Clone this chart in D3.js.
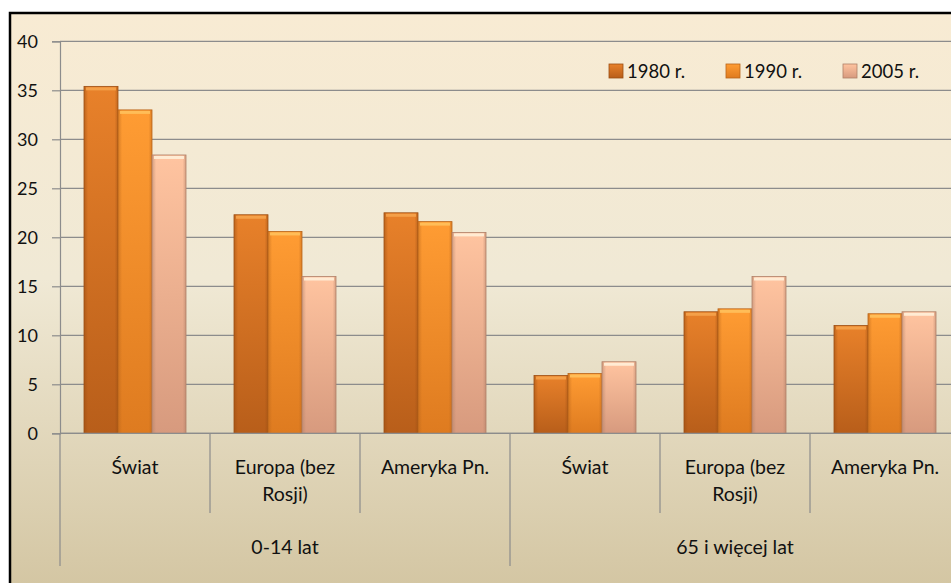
<!DOCTYPE html>
<html>
<head>
<meta charset="utf-8">
<script src="https://cdn.jsdelivr.net/npm/d3@7"></script>
<style>
  html, body { margin: 0; padding: 0; background: #fff; }
  svg { display: block; }
  text { font-family: Lato, "Open Sans", sans-serif; fill: #111; }
</style>
</head>
<body>
<svg id="chart" width="951" height="583"></svg>
<script>
const groups = ['0-14 lat', '65 i więcej lat']
const regions = ['Świat', 'Europa (bez Rosji)', 'Ameryka Pn.']
const seriesNames = ['1980 r.', '1990 r.', '2005 r.']
const v1980 = [35.4, 22.3, 22.5, 5.9, 12.4, 11.0]
const v1990 = [33.0, 20.6, 21.6, 6.1, 12.7, 12.2]
const v2005 = [28.4, 16.0, 20.5, 7.3, 16.0, 12.4]
const yTicks = [0, 5, 10, 15, 20, 25, 30, 35, 40]

const margin = { left: 60, top: 41.3, bottom: 433.3 }
const size = { width: 951, height: 583 }

// colours for each series: top, bottom, edge
const barColors = [
    { top: '#e8812a', bottom: '#b85e1a', edge: '#9c4e12', light: '#f5a34c' },
    { top: '#ff9c33', bottom: '#de7b20', edge: '#b8641a', light: '#ffc15c' },
    { top: '#ffc4a0', bottom: '#d79a7e', edge: '#b08068', light: '#fff0d8' }
]

const svg = d3.select('#chart')
const defs = svg.append('defs')

const bg = defs.append('linearGradient').attr('id', 'bg')
    .attr('x1', 0).attr('y1', 0).attr('x2', 0).attr('y2', 1)
bg.append('stop').attr('offset', '0%').attr('stop-color', '#f8ebd3')
bg.append('stop').attr('offset', '45%').attr('stop-color', '#f0e9d5')
bg.append('stop').attr('offset', '100%').attr('stop-color', '#d2c4a0')

barColors.forEach((c, i) => {
    const g = defs.append('linearGradient').attr('id', 'bar' + i)
        .attr('x1', 0).attr('y1', 0).attr('x2', 0).attr('y2', 1)
    g.append('stop').attr('offset', '0%').attr('stop-color', c.top)
    g.append('stop').attr('offset', '100%').attr('stop-color', c.bottom)
    const h = defs.append('linearGradient').attr('id', 'side' + i)
        .attr('x1', 0).attr('y1', 0).attr('x2', 1).attr('y2', 0)
    h.append('stop').attr('offset', '0%').attr('stop-color', c.edge).attr('stop-opacity', 0.55)
    h.append('stop').attr('offset', '12%').attr('stop-color', c.edge).attr('stop-opacity', 0)
    h.append('stop').attr('offset', '90%').attr('stop-color', c.edge).attr('stop-opacity', 0)
    h.append('stop').attr('offset', '100%').attr('stop-color', c.edge).attr('stop-opacity', 0.5)
})

// chart frame
svg.append('rect')
    .attr('x', 10).attr('y', 13)
    .attr('width', 960).attr('height', 590)
    .attr('fill', 'url(#bg)')
    .attr('stroke', '#000').attr('stroke-width', 2.5)

const categories = []
groups.forEach(g => regions.forEach(r => categories.push(g + '|' + r)))

const rows = categories.map((c, i) => ({
    key: c,
    values: [v1980[i], v1990[i], v2005[i]]
}))

const xScale = d3.scaleBand()
    .domain(categories)
    .range([margin.left, margin.left + 900])

const groupScale = d3.scaleBand()
    .domain(groups)
    .range([margin.left, margin.left + 900])

const xInner = d3.scaleBand()
    .domain(seriesNames)
    .range([24, 126])

const yScale = d3.scaleLinear()
    .domain([0, 40])
    .range([margin.bottom, margin.top])

// gridlines
svg.append('g')
    .selectAll('line')
    .data(yTicks)
    .enter()
    .append('line')
    .attr('x1', margin.left).attr('x2', size.width)
    .attr('y1', d => yScale(d)).attr('y2', d => yScale(d))
    .attr('stroke', '#8c8c8c').attr('stroke-width', 1.2)

// y axis
const yAxis = d3.axisLeft(yScale).tickValues(yTicks).tickSize(8).tickPadding(14)
const yG = svg.append('g')
    .attr('transform', `translate(${margin.left},0)`)
    .call(yAxis)
yG.select('.domain').attr('stroke', '#8c8c8c').attr('stroke-width', 1.2)
yG.selectAll('.tick line').attr('stroke', '#8c8c8c').attr('stroke-width', 1.2)
yG.selectAll('.tick text').attr('font-size', 18).attr('fill', '#111')
    .style('font-family', 'Lato, sans-serif')

// bars
const catG = svg.append('g')
    .selectAll('g')
    .data(rows)
    .enter()
    .append('g')
    .attr('transform', d => `translate(${xScale(d.key)},0)`)

const bar = catG.selectAll('g')
    .data(d => d.values.map((v, i) => ({ v, i })))
    .enter()
    .append('g')

bar.append('rect')
    .attr('x', d => xInner(seriesNames[d.i]))
    .attr('y', d => yScale(d.v))
    .attr('width', xInner.bandwidth())
    .attr('height', d => yScale(0) - yScale(d.v))
    .attr('fill', d => `url(#bar${d.i})`)
    .attr('stroke', d => barColors[d.i].edge).attr('stroke-width', 0.8)
bar.append('rect')
    .attr('x', d => xInner(seriesNames[d.i]))
    .attr('y', d => yScale(d.v))
    .attr('width', xInner.bandwidth())
    .attr('height', d => yScale(0) - yScale(d.v))
    .attr('fill', d => `url(#side${d.i})`)
bar.append('rect')
    .attr('x', d => xInner(seriesNames[d.i]) + 2)
    .attr('y', d => yScale(d.v) + 1)
    .attr('width', xInner.bandwidth() - 4)
    .attr('height', 3)
    .attr('fill', d => barColors[d.i].light)
    .attr('opacity', 0.9)

// x axis line
svg.append('line')
    .attr('x1', margin.left).attr('x2', size.width)
    .attr('y1', yScale(0)).attr('y2', yScale(0))
    .attr('stroke', '#8c8c8c').attr('stroke-width', 1.2)

// category dividers
const bounds = categories.map(c => xScale(c)).concat([margin.left + 900])
svg.append('g')
    .selectAll('line')
    .data(bounds)
    .enter()
    .append('line')
    .attr('x1', d => d).attr('x2', d => d)
    .attr('y1', yScale(0))
    .attr('y2', (d, i) => i % 3 === 0 ? 566 : 513)
    .attr('stroke', '#8c8c8c').attr('stroke-width', 1.2)

// category labels, wrapped
const lab = svg.append('g')
    .selectAll('text')
    .data(categories)
    .enter()
    .append('text')
    .attr('x', d => xScale(d) + xScale.bandwidth() / 2)
    .attr('y', 474)
    .attr('text-anchor', 'middle')
    .attr('font-size', 19.5)
lab.each(function (d) {
    const t = d3.select(this)
    const words = d.split('|')[1].split(' ')
    let line = []
    let tspan = t.append('tspan').attr('x', t.attr('x')).attr('dy', 0)
    words.forEach(w => {
        line.push(w)
        tspan.text(line.join(' '))
        if (tspan.node().getComputedTextLength() > 130 && line.length > 1) {
            line.pop()
            tspan.text(line.join(' '))
            line = [w]
            tspan = t.append('tspan').attr('x', t.attr('x')).attr('dy', 27).text(w)
        }
    })
})

// group labels
svg.append('g')
    .selectAll('text')
    .data(groups)
    .enter()
    .append('text')
    .attr('x', d => groupScale(d) + groupScale.bandwidth() / 2)
    .attr('y', 554)
    .attr('text-anchor', 'middle')
    .attr('font-size', 19.5)
    .text(d => d)

// legend
const legendX = d3.scalePoint().domain(seriesNames).range([609, 843])
const leg = svg.append('g')
    .selectAll('g')
    .data(seriesNames)
    .enter()
    .append('g')
    .attr('transform', d => `translate(${legendX(d)},64)`)
leg.append('rect')
    .attr('width', 14).attr('height', 14)
    .attr('fill', (d, i) => `url(#bar${i})`)
    .attr('stroke', (d, i) => barColors[i].edge).attr('stroke-width', 0.8)
leg.append('text')
    .attr('x', 18).attr('y', 13.5)
    .attr('font-size', 18.5)
    .text(d => d)
</script>
</body>
</html>
